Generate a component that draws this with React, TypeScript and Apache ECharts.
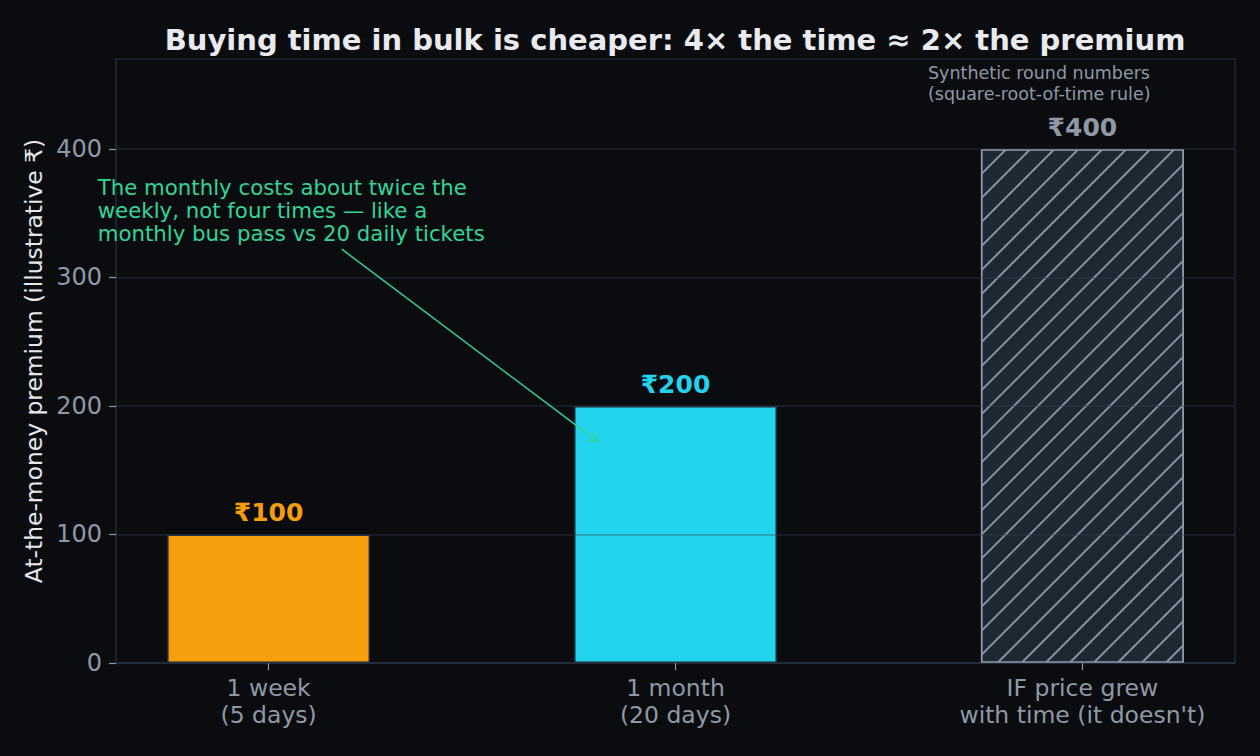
import React, { useEffect, useRef } from 'react';
import * as echarts from 'echarts';

// 数据
const CATEGORIES = ['1 week\n(5 days)', '1 month\n(20 days)', "IF price grew\nwith time (it doesn't)"];
const PREMIUMS = [100, 200, 400];
const BAR_COLORS = ['#f59e0b', '#22d3ee', '#1e2833'];
const LABEL_COLORS = ['#f59e0b', '#22d3ee', '#8f99a6'];
const Y_TICKS = [0, 100, 200, 300, 400];

const TITLE = 'Buying time in bulk is cheaper: 4× the time ≈ 2× the premium';
const Y_NAME = 'At-the-money premium (illustrative ₹)';
const NOTE = 'Synthetic round numbers\n(square-root-of-time rule)';
const ANNOTATION = 'The monthly costs about twice the\nweekly, not four times — like a\nmonthly bus pass vs 20 daily tickets';
// annotation anchors in data coords: text top-left, arrow start, arrow tip
const ANNOT_TEXT_AT = [-0.42, 379];
const ARROW_FROM = [0.18, 322];
const ARROW_TO = [0.81, 172];

const FONT = '"DejaVu Sans", Verdana, sans-serif';
const BG = '#0b0c10';
const SPINE = '#1f2630';

const App: React.FC = () => {
  const chartRef = useRef<HTMLDivElement>(null);

  useEffect(() => {
    document.body.style.margin = '0';
    if (!chartRef.current) return;
    const chart = echarts.init(chartRef.current, undefined, { renderer: 'svg' });

    const xIdx = PREMIUMS.map((_, i) => i);
    const option = {
      animation: false,
      backgroundColor: BG,
      textStyle: { fontFamily: FONT },
      title: {
        text: TITLE,
        left: 670,
        top: 20,
        textAlign: 'center',
        textStyle: { color: '#e8eaee', fontSize: 29, fontWeight: 'bold', fontFamily: FONT }
      },
      grid: {
        left: 116,
        right: 25,
        top: 59,
        bottom: 93,
        show: true,
        borderColor: SPINE,
        borderWidth: 1.5,
        backgroundColor: 'transparent'
      },
      xAxis: {
        type: 'value',
        min: -0.375,
        max: 2.375,
        splitLine: { show: false },
        axisLine: { show: true, onZero: false, lineStyle: { color: SPINE, width: 1.5 } },
        axisTick: { show: true, customValues: xIdx, length: 7, lineStyle: { color: '#8f99a6', width: 1.2 } },
        axisLabel: {
          customValues: xIdx,
          formatter: (v: number) => CATEGORIES[Math.round(v)] ?? '',
          color: '#8f99a6',
          fontSize: 23.5,
          lineHeight: 27,
          margin: 11,
          fontFamily: FONT
        }
      },
      yAxis: {
        type: 'value',
        min: 0,
        max: 470,
        z: 3,
        name: Y_NAME,
        nameLocation: 'middle',
        nameGap: 67,
        nameTextStyle: { color: '#e5e7eb', fontSize: 23.4, fontFamily: FONT },
        axisLine: { show: true, onZero: false, lineStyle: { color: SPINE, width: 1.5 } },
        axisTick: { show: true, customValues: Y_TICKS, length: 7, lineStyle: { color: '#8f99a6', width: 1.2 } },
        axisLabel: { customValues: Y_TICKS, color: '#8f99a6', fontSize: 24, margin: 14, fontFamily: FONT },
        splitLine: { show: true, lineStyle: { color: 'rgba(55, 65, 81, 0.45)', width: 1.5 } }
      },
      series: [
        {
          type: 'bar',
          barWidth: 203,
          data: PREMIUMS.map((v, i) => ({
            value: [i, v],
            itemStyle:
              i === 2
                ? {
                    color: BAR_COLORS[i],
                    borderColor: '#8f99a6',
                    borderWidth: 1.5,
                    decal: {
                      symbol: 'rect',
                      symbolSize: 1,
                      dashArrayX: [1, 0],
                      dashArrayY: [1.5, 15],
                      rotation: -Math.PI / 4,
                      color: '#8593a1'
                    }
                  }
                : { color: BAR_COLORS[i], borderColor: '#1f2937', borderWidth: 1.5 },
            label: { color: LABEL_COLORS[i] }
          })),
          label: {
            show: true,
            position: 'top',
            distance: 9,
            fontSize: 25,
            fontWeight: 'bold',
            fontFamily: FONT,
            formatter: (p: any) => '₹' + p.value[1]
          }
        }
      ]
    };

    chart.setOption(option);

    // 注释箭头
    const t = chart.convertToPixel({ gridIndex: 0 }, ANNOT_TEXT_AT) as number[];
    const a = chart.convertToPixel({ gridIndex: 0 }, ARROW_FROM) as number[];
    const b = chart.convertToPixel({ gridIndex: 0 }, ARROW_TO) as number[];
    const ang = Math.atan2(b[1] - a[1], b[0] - a[0]);
    const head = 11;
    const spread = 0.45;
    const p1 = [b[0] - head * Math.cos(ang - spread), b[1] - head * Math.sin(ang - spread)];
    const p2 = [b[0] - head * Math.cos(ang + spread), b[1] - head * Math.sin(ang + spread)];
    const GREEN = '#34d399';

    chart.setOption({
      graphic: [
        {
          type: 'text',
          x: t[0],
          y: t[1],
          z: 10,
          style: {
            text: ANNOTATION,
            fill: GREEN,
            font: `21.3px ${FONT}`,
            lineHeight: 23,
            align: 'left',
            verticalAlign: 'top'
          }
        },
        {
          type: 'line',
          z: 10,
          shape: { x1: a[0], y1: a[1], x2: b[0], y2: b[1] },
          style: { stroke: GREEN, lineWidth: 1.5 }
        },
        {
          type: 'polyline',
          z: 10,
          shape: { points: [p1, b, p2] },
          style: { stroke: GREEN, lineWidth: 1.5, fill: 'none' }
        },
        {
          type: 'text',
          x: 928,
          y: 62,
          z: 10,
          style: {
            text: NOTE,
            fill: '#8f99a6',
            font: `17.5px ${FONT}`,
            lineHeight: 21,
            align: 'left',
            verticalAlign: 'top'
          }
        }
      ]
    });

    const handleResize = () => chart.resize();
    window.addEventListener('resize', handleResize);
    return () => {
      window.removeEventListener('resize', handleResize);
      chart.dispose();
    };
  }, []);

  return <div ref={chartRef} style={{ width: '1260px', height: '756px' }}></div>;
};

export default App;
